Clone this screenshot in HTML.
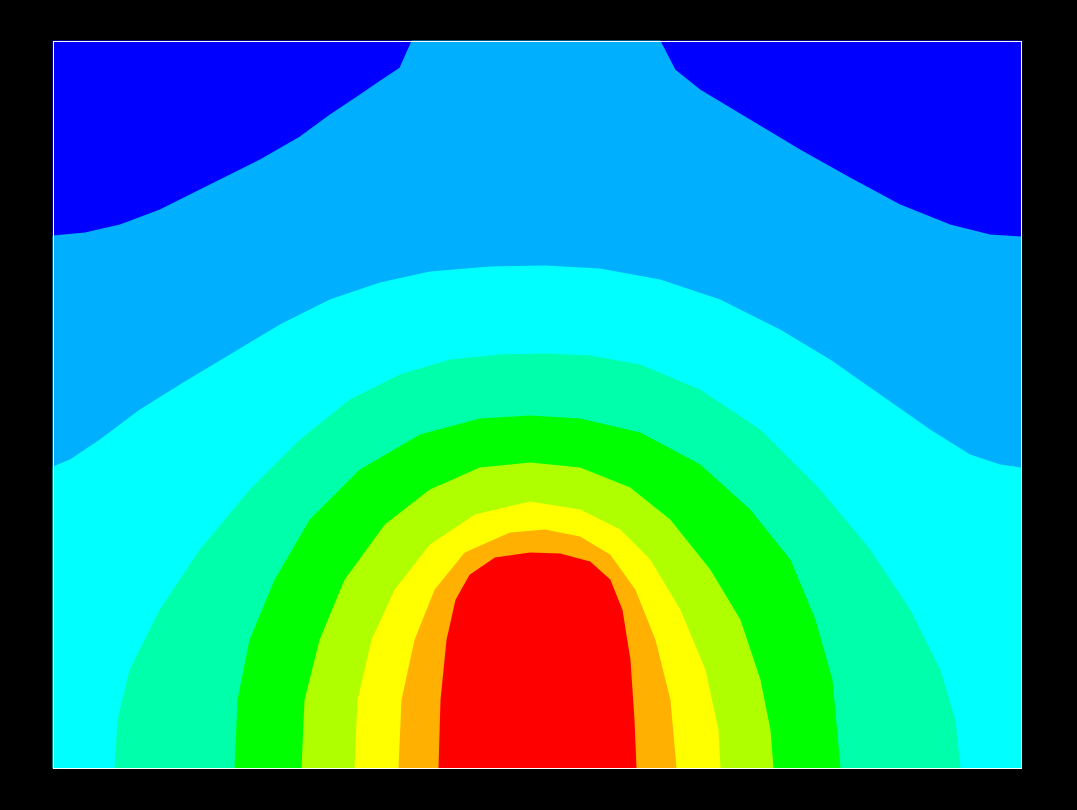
<!DOCTYPE html>
<html><head><meta charset="utf-8"><style>
html,body{margin:0;padding:0;background:#000;}
svg{display:block;}
</style></head><body>
<svg id="chart" width="1077" height="810">
<rect width="1077" height="810" fill="#000"/>
<g id="plot"></g>
<rect x="53.5" y="41.5" width="968" height="727" fill="none" stroke="#fff" stroke-width="1"/>
</svg>
<script>
// contour level boundaries (x, y in plot data units)
const levelColors = ["#0000ff","#00b0ff","#00ffff","#00ffaa","#00ff00","#b0ff00","#ffff00","#ffb000","#ff0000"];
const levelNames = ["band-1","band-2","band-3","band-4","band-5","band-6","band-7","band-8","band-9"];
const band1 = [[53,41],[1021,41],[1021,768],[53,768]];
const band2 = [[412,41],[660,41],[675,70],[700,90],[750,120],[800,150],[850,178],[900,205],[950,225],[990,235],[1021,237],[1021,768],[53,768],[53,236],[85,233],[120,225],[160,210],[210,185],[260,160],[300,137],[330,115],[360,95],[385,78],[400,68]];
const band3 = [[53,467],[70,460],[100,440],[140,410],[180,385],[230,355],[280,325],[330,300],[380,283],[430,272],[490,267],[545,266],[600,269],[660,280],[720,300],[780,330],[830,360],[880,395],[930,430],[970,455],[1000,465],[1021,468],[1021,768],[53,768]];
const band4 = [[115,768],[118,720],[130,670],[160,610],[200,550],[250,490],[300,440],[350,400],[400,375],[450,360],[500,355],[545,354],[590,356],[640,365],[700,390],[760,430],[820,490],[870,550],[910,610],[940,670],[955,720],[960,768]];
const band5 = [[235,768],[238,700],[250,640],[275,580],[310,520],[360,470],[420,435],[480,419],[530,416],[580,419],[640,433],[700,465],[750,510],[790,560],[815,620],[832,680],[840,768]];
const band6 = [[302,768],[305,700],[320,640],[345,580],[385,525],[430,490],[480,468],[530,463],[580,468],[630,488],[670,520],[710,570],[740,620],[760,680],[770,730],[773,768]];
const band7 = [[355,768],[358,700],[372,640],[395,590],[430,545],[475,515],[530,502],[580,510],[620,530],[650,560],[680,610],[705,670],[718,730],[720,768]];
const band8 = [[399,768],[402,700],[415,640],[435,590],[465,553],[510,533],[545,530],[580,537],[610,555],[635,590],[655,640],[670,700],[676,768]];
const band9 = [[439,768],[441,700],[447,640],[456,600],[470,575],[495,558],[530,553],[560,554],[590,562],[610,580],[622,610],[630,660],[634,720],[636,768]];
const bands = [band1,band2,band3,band4,band5,band6,band7,band8,band9];

const xDomain=[53,1021], yDomain=[41,768];
const xRange=[53,1021], yRange=[41,768];
function xScale(v){return xRange[0]+(v-xDomain[0])/(xDomain[1]-xDomain[0])*(xRange[1]-xRange[0]);}
function yScale(v){return yRange[0]+(v-yDomain[0])/(yDomain[1]-yDomain[0])*(yRange[1]-yRange[0]);}

const NS="http://www.w3.org/2000/svg";
const plot=document.getElementById('plot');
bands.forEach((pts,i)=>{
  const p=document.createElementNS(NS,'polygon');
  p.setAttribute('points',pts.map(q=>xScale(q[0]).toFixed(1)+','+yScale(q[1]).toFixed(1)).join(' '));
  p.setAttribute('fill',levelColors[i]);
  p.setAttribute('stroke',levelColors[i]);
  p.setAttribute('stroke-width','1');
  p.setAttribute('stroke-linejoin','round');
  
  
  plot.appendChild(p);
});
</script>
</body></html>
